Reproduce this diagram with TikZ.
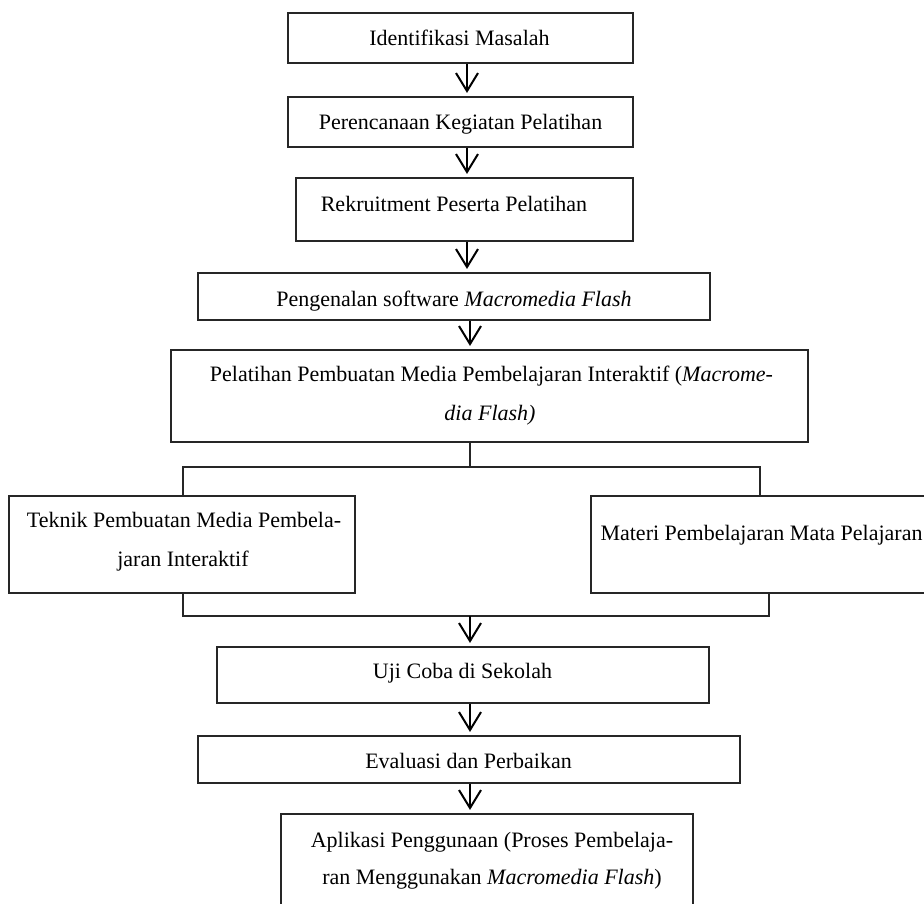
\documentclass[tikz,border=0pt]{standalone}
\usepackage{fontspec}
\setmainfont{Liberation Serif}
\usetikzlibrary{arrows.meta,calc}
\begin{document}
\begin{tikzpicture}[x=1pt,y=-1pt,
  box/.style={draw=black!85, line width=1.1pt, rectangle, inner sep=0pt},
  txt/.style={inner sep=0pt, font=\fontsize{22}{26}\selectfont, text height=14.5pt, text depth=0pt},
  flow/.style={line width=2pt, shorten >=3.5pt, -{Straight Barb[length=18pt,width=22pt,line width=2pt]}},
  link/.style={draw=black!85, line width=1.1pt}]
\useasboundingbox (0,0) rectangle (924,904);

% boxes
\node[box, minimum width=345pt, minimum height=50pt] (b1) at (460.5,38) {};
\node[box, minimum width=345pt, minimum height=50pt] (b2) at (460.5,122) {};
\node[box, minimum width=337pt, minimum height=63pt] (b3) at (464.5,209.5) {};
\node[box, minimum width=512pt, minimum height=47pt] (b4) at (454,296.5) {};
\node[box, minimum width=637pt, minimum height=92pt] (b5) at (489.5,396) {};
\node[box, minimum width=346pt, minimum height=97pt] (tb) at (182,544.5) {};
\node[box, minimum width=340pt, minimum height=97pt] (mb) at (761,544.5) {};
\node[box, minimum width=492pt, minimum height=56pt] (ub) at (463,675) {};
\node[box, minimum width=542pt, minimum height=47pt] (eb) at (469,759.5) {};
\node[box, minimum width=412pt, minimum height=98pt] (ab) at (487,863) {};

% texts
\node[txt] (t1) at (459.5,38) {Identifikasi Masalah};
\node[txt] (t2) at (460.5,122) {Perencanaan Kegiatan Pelatihan};
\node[txt] (t3) at (454,204.5) {Rekruitment Peserta Pelatihan};
\node[txt] (t4) at (454,299.5) {Pengenalan software \textit{Macromedia Flash}};
\node[txt] (t5a) at (491.5,374) {Pelatihan Pembuatan Media Pembelajaran Interaktif (\textit{Macrome-}};
\node[txt] (t5b) at (490,413) {\textit{dia Flash)}};
\node[txt] (tta) at (184,520.5) {Teknik Pembuatan Media Pembela-};
\node[txt] (ttb) at (183,559) {jaran Interaktif};
\node[txt] (tm) at (761.5,533) {Materi Pembelajaran Mata Pelajaran};
\node[txt] (tu) at (462.5,671.5) {Uji Coba di Sekolah};
\node[txt] (te) at (468.5,761.5) {Evaluasi dan Perbaikan};
\node[txt] (taa) at (492,840) {Aplikasi Penggunaan (Proses Pembelaja-};
\node[txt] (tab) at (492,877) {ran Menggunakan \textit{Macromedia Flash})};

% helper coordinates
\coordinate (ax) at (467,0);
\coordinate (bx) at (470,0);
\coordinate (split) at (470,467);
\coordinate (jl) at (183,467);
\coordinate (jr) at (760,467);
\coordinate (kl) at (183,616);
\coordinate (kr) at (769,616);
\coordinate (merge) at (470,616);

% arrows
\draw[flow] (b1.south -| ax) -- (b2.north -| ax);
\draw[flow] (b2.south -| ax) -- (b3.north -| ax);
\draw[flow] (b3.south -| ax) -- (b4.north -| ax);
\draw[flow] (b4.south -| bx) -- (b5.north -| bx);

% split and merge
\draw[link] (b5.south -| split) -- (split);
\draw[link] (tb.north -| jl) -- (jl) -- (jr) -- (mb.north -| jr);
\draw[link] (tb.south -| kl) -- (kl) -- (kr) -- (mb.south -| kr);

\draw[flow] (merge) -- (ub.north -| merge);
\draw[flow] (ub.south -| bx) -- (eb.north -| bx);
\draw[flow] (eb.south -| bx) -- (ab.north -| bx);
\end{tikzpicture}
\end{document}
